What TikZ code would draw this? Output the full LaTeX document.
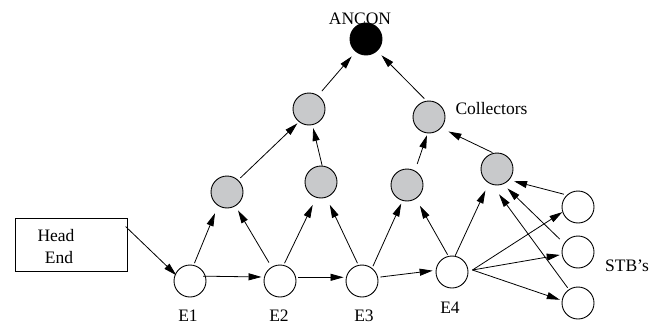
\documentclass[tikz,border=0pt]{standalone}
\usepackage{fontspec}
\setmainfont{Liberation Serif}
\usetikzlibrary{arrows.meta}
\definecolor{collgray}{RGB}{200,201,203}
\begin{document}
\begin{tikzpicture}[x=1pt,y=-1pt,
  unitnode/.style={circle, draw=black, line width=0.9pt, minimum size=32pt, inner sep=0pt},
  rootnode/.style={unitnode, fill=black},
  collnode/.style={unitnode, fill=collgray},
  endnode/.style={unitnode, fill=white},
  lbl/.style={anchor=base, inner sep=0pt, font=\fontsize{17.5}{22}\selectfont},
  arr/.style={line width=0.8pt, -{Triangle[length=13pt,width=7pt]}},
]
\useasboundingbox (0,0) rectangle (664,324);

% head end box
\node[draw=black, line width=0.9pt, minimum width=112pt, minimum height=53pt, inner sep=0pt] (head) at (71,244.5) {};
\node[lbl] (headA) at (56,241) {Head};
\node[lbl] (headB) at (59,263) {End};

% root
\node[rootnode] (ancon) at (366,39) {};
\node[lbl] (anconlbl) at (360,24) {ANCON};

% collectors
\node[collnode] (L2a) at (309,109) {};
\node[collnode] (L2b) at (429,117) {};
\node[collnode] (L3a) at (227,192) {};
\node[collnode] (L3b) at (321,182) {};
\node[collnode] (L3c) at (407,185) {};
\node[collnode] (L3d) at (497,169) {};
\node[lbl] (colllbl) at (491.5,114) {Collectors};

% end nodes
\node[endnode] (E1) at (190,281) {};
\node[endnode] (E2) at (280,281) {};
\node[endnode] (E3) at (362,281) {};
\node[endnode] (E4) at (452,272) {};
\node[lbl] (E1lbl) at (188,321) {E1};
\node[lbl] (E2lbl) at (279,321) {E2};
\node[lbl] (E3lbl) at (364,321) {E3};
\node[lbl] (E4lbl) at (450,313) {E4};

% set-top boxes
\node[endnode] (S1) at (578,207) {};
\node[endnode] (S2) at (578,252) {};
\node[endnode] (S3) at (578,303) {};
\node[lbl] (stblbl) at (627,271) {STB’s};

% bus
\draw[arr, shorten <=-2.5pt, shorten >=-1.7pt] (head.16) -- (E1.155);
\draw[arr, shorten <=-2.5pt, shorten >=2.5pt] (E1.17) -- (E2.166);
\draw[arr, shorten <=2.4pt, shorten >=2.4pt] (E2.13) -- (E3.167);
\draw[arr, shorten <=2.4pt, shorten >=3pt] (E3.13) -- (E4.174);

% ends to first collector level
\draw[arr, shorten <=2pt, shorten >=8pt] (E1.77) -- (L3a.-123);
\draw[arr, shorten <=5pt, shorten >=5pt] (E2.121) -- (L3a.-59);
\draw[arr, shorten <=2pt, shorten >=8pt] (E2.77) -- (L3b.-107);
\draw[arr, shorten <=2pt, shorten >=8pt] (E3.103) -- (L3b.-71);
\draw[arr, shorten <=2pt, shorten >=3pt] (E3.52) -- (L3c.-106);
\draw[arr, shorten <=1.5pt, shorten >=8pt] (E4.103) -- (L3c.-57);
\draw[arr, shorten >=8pt] (E4.79) -- (L3d.-120);

% first to second collector level
\draw[arr, shorten <=3pt, shorten >=2pt] (L3a.47) -- (L2a.-128);
\draw[arr, shorten >=3pt] (L3b.86) -- (L2a.-78);
\draw[arr, shorten <=7pt, shorten >=2pt] (L3c.61) -- (L2b.-95);
\draw[arr, shorten <=1pt, shorten >=8pt] (L3d.103) -- (L2b.-42);

% second level to root
\draw[arr, shorten <=5.6pt, shorten >=6pt] (L2a.56) -- (ancon.-129);
\draw[arr, shorten <=3pt, shorten >=6pt] (L2b.99) -- (ancon.-47);

% fan-out from E4 to the set-top boxes
\coordinate (fan) at ([xshift=4pt,yshift=2pt]E4.east);
\draw[arr] (fan) -- (S1.-162);
\draw[arr, shorten >=2pt] (fan) -- (S2.-171);
\draw[arr, shorten >=2pt] (fan) -- (S3.171);

% set-top boxes report to the collector
\draw[arr, shorten <=3pt, shorten >=5pt] (S1.133) -- (L3d.-42);
\draw[arr, shorten <=6pt, shorten >=6pt] (S2.148) -- (L3d.-68);
\draw[arr, shorten <=2pt, shorten >=12pt] (S3.124) -- (L3d.-108);
\end{tikzpicture}
\end{document}
